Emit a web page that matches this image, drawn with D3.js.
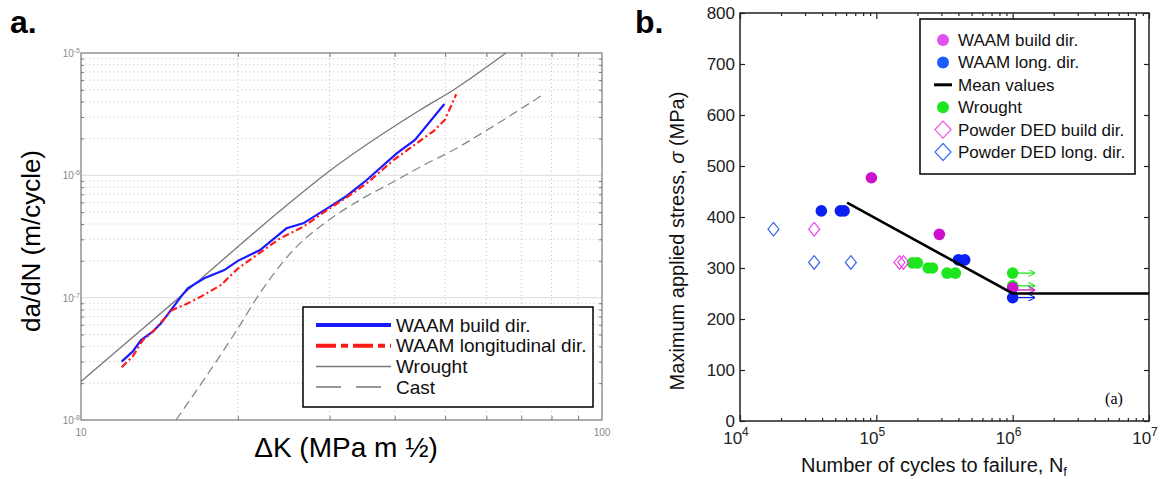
<!DOCTYPE html>
<html>
<head>
<meta charset="utf-8">
<script src="https://cdn.jsdelivr.net/npm/d3@7"></script>
<style>
  body { margin: 0; background: #fff; }
  svg { font-family: "Liberation Sans", Arial, sans-serif; }
</style>
</head>
<body>
<div id="viewer"></div>
<script>
// ---- panel a: crack growth rate data ----
const waamBuildK = [11.97, 12.56, 13.04, 13.73, 14.24, 14.88, 15.56, 16.03, 17.24, 18.84, 20.0, 22.06, 24.8, 26.7, 30.06, 32.36, 35.35, 40.36, 43.75, 49.83];
const waamBuildRate = [3.0e-8, 3.62e-8, 4.5e-8, 5.27e-8, 6.17e-8, 7.9e-8, 1.02e-7, 1.19e-7, 1.44e-7, 1.68e-7, 2.0e-7, 2.45e-7, 3.69e-7, 4.05e-7, 5.55e-7, 6.78e-7, 9.16e-7, 1.51e-6, 1.95e-6, 3.83e-6];
const waamLongK = [11.97, 12.56, 13.14, 13.73, 14.88, 15.22, 15.79, 16.99, 18.57, 20.0, 21.5, 24.1, 26.7, 30.06, 32.36, 35.35, 39.77, 44.1, 47.5, 49.97, 52.5];
const waamLongRate = [2.7e-8, 3.3e-8, 4.5e-8, 5.27e-8, 7.8e-8, 8.2e-8, 8.7e-8, 1.02e-7, 1.27e-7, 1.73e-7, 2.16e-7, 3.05e-7, 3.8e-7, 5.4e-7, 6.6e-7, 8.6e-7, 1.33e-6, 1.83e-6, 2.3e-6, 2.85e-6, 4.6e-6];
const wroughtK = [10, 17, 24.2, 29.6, 44.75, 51.85, 65.4];
const wroughtRate = [2.06e-8, 1.43e-7, 5.2e-7, 1.04e-6, 3.42e-6, 4.99e-6, 1.0e-5];
const castK = [15.22, 20.0, 22.06, 25.56, 29.6, 34.3, 39.8, 46.1, 51.85, 60.1, 76.9];
const castRate = [1.0e-8, 5.6e-8, 1.09e-7, 2.45e-7, 4.18e-7, 6.28e-7, 8.87e-7, 1.25e-6, 1.61e-6, 2.34e-6, 4.54e-6];
const legendA = ["WAAM build dir.", "WAAM longitudinal dir.", "Wrought", "Cast"];

// ---- panel b: S-N data ----
const waamBuildN = [9.2e4, 2.9e5, 1.0e6];
const waamBuildS = [477, 366, 261];
const waamLongN = [3.95e4, 5.45e4, 5.8e4, 4.0e5, 4.45e5, 1.0e6];
const waamLongS = [412, 412, 412, 316, 316, 242];
const wroughtN = [1.84e5, 2.0e5, 2.4e5, 2.58e5, 3.3e5, 3.8e5, 1.0e6, 1.0e6];
const wroughtS = [310, 310, 300, 300, 290, 290, 290, 265];
const powderBuildN = [3.5e4, 1.48e5, 1.58e5];
const powderBuildS = [376, 311, 311];
const powderLongN = [1.76e4, 3.5e4, 6.5e4];
const powderLongS = [376, 311, 311];
const meanN = [6.1e4, 1.0e6, 1.0e7];
const meanS = [428, 250, 250];
const runoutFrom = [1.0e6, 1.0e6, 1.0e6, 1.0e6];
const runoutTo = [1.45e6, 1.45e6, 1.45e6, 1.45e6];
const runoutS = [290, 265, 257, 242];
const runoutSeries = ["wrought", "wrought", "build", "long"];
const legendB = ["WAAM build dir.", "WAAM long. dir.", "Mean values", "Wrought", "Powder DED build dir.", "Powder DED long. dir."];
const yTicksB = [0, 100, 200, 300, 400, 500, 600, 700, 800];
const xTicksB = [1e4, 1e5, 1e6, 1e7];

const width = 1169, height = 479;
const svg = d3.select("#viewer").append("svg")
    .attr("width", width).attr("height", height);

// ================= panel a =================
const xA = d3.scaleLog().domain([10, 100]).range([81, 602]);
const yA = d3.scaleLog().domain([1e-8, 1e-5]).range([420, 53]);
const gA = svg.append("g");

const minorX = d3.range(2, 10).map(m => m * 10);
const minorY = [];
[1e-8, 1e-7, 1e-6].forEach(d => d3.range(2, 10).forEach(m => minorY.push(d * m)));

// grid
gA.selectAll(".hminor").data(minorY).enter().append("line")
    .attr("x1", xA(10)).attr("x2", xA(100))
    .attr("y1", d => yA(d)).attr("y2", d => yA(d))
    .attr("stroke", "#bdbdbd").attr("stroke-width", 0.8).attr("stroke-dasharray", "1.2,2.8");
gA.selectAll(".vminor").data(minorX).enter().append("line")
    .attr("x1", d => xA(d)).attr("x2", d => xA(d))
    .attr("y1", yA(1e-8)).attr("y2", yA(1e-5))
    .attr("stroke", "#bdbdbd").attr("stroke-width", 0.8).attr("stroke-dasharray", "1.2,2.8");
gA.selectAll(".hmajor").data([1e-7, 1e-6]).enter().append("line")
    .attr("x1", xA(10)).attr("x2", xA(100))
    .attr("y1", d => yA(d)).attr("y2", d => yA(d))
    .attr("stroke", "#e2e2e2").attr("stroke-width", 1.2);

// inner ticks
const tickStyle = g => g.call(s => s.select(".domain").remove())
    .selectAll("line").attr("stroke", "#777");
gA.append("g").attr("transform", `translate(0,${yA(1e-8)})`)
    .call(d3.axisBottom(xA).tickValues(minorX).tickSize(-4).tickFormat("")).call(tickStyle);
gA.append("g").attr("transform", `translate(0,${yA(1e-5)})`)
    .call(d3.axisTop(xA).tickValues(minorX).tickSize(-4).tickFormat("")).call(tickStyle);
gA.append("g").attr("transform", `translate(${xA(10)},0)`)
    .call(d3.axisLeft(yA).tickValues(minorY).tickSize(-3).tickFormat("")).call(tickStyle);
gA.append("g").attr("transform", `translate(${xA(100)},0)`)
    .call(d3.axisRight(yA).tickValues(minorY).tickSize(-3).tickFormat("")).call(tickStyle);

// box
gA.append("rect").attr("x", xA(10)).attr("y", yA(1e-5))
    .attr("width", xA(100) - xA(10)).attr("height", yA(1e-8) - yA(1e-5))
    .attr("fill", "none").attr("stroke", "#777").attr("stroke-width", 1.2);

// tick labels
const yLab = gA.selectAll(".ylab").data([1e-8, 1e-7, 1e-6, 1e-5]).enter().append("text")
    .attr("x", xA(10) - 1).attr("y", d => yA(d) + 4)
    .attr("text-anchor", "end").attr("fill", "#888").style("font-size", "10px");
yLab.append("tspan").text("10");
yLab.append("tspan").attr("dy", -4).style("font-size", "7px").text(d => Math.round(Math.log10(d)));
gA.selectAll(".xlab").data([10, 100]).enter().append("text")
    .attr("x", d => xA(d)).attr("y", yA(1e-8) + 16)
    .attr("text-anchor", "middle").attr("fill", "#888").style("font-size", "10px")
    .text(d => d);

// curves
const lineA = d3.line().x(d => xA(d[0])).y(d => yA(d[1]));
const smoothA = d3.line().x(d => xA(d[0])).y(d => yA(d[1])).curve(d3.curveMonotoneX);
gA.append("path").datum(d3.zip(castK, castRate)).attr("d", smoothA)
    .attr("fill", "none").attr("stroke", "#888").attr("stroke-width", 1.3).attr("stroke-dasharray", "9,5");
gA.append("path").datum(d3.zip(wroughtK, wroughtRate)).attr("d", smoothA)
    .attr("fill", "none").attr("stroke", "#777").attr("stroke-width", 1.3);
gA.append("path").datum(d3.zip(waamBuildK, waamBuildRate)).attr("d", lineA)
    .attr("fill", "none").attr("stroke", "#1a1aff").attr("stroke-width", 2.2);
gA.append("path").datum(d3.zip(waamLongK, waamLongRate)).attr("d", lineA)
    .attr("fill", "none").attr("stroke", "#ff1a1a").attr("stroke-width", 2.2)
    .attr("stroke-dasharray", "7,3,2,3");

// legend a
const legA = gA.append("g");
legA.append("rect").attr("x", 303).attr("y", 307).attr("width", 290).attr("height", 100)
    .attr("fill", "#fff").attr("stroke", "#000").attr("stroke-width", 1.5);
const legAStyles = [
    { c: "#1a1aff", w: 4, dash: null },
    { c: "#ff1a1a", w: 4, dash: "20,5,7,5" },
    { c: "#777", w: 1.5, dash: null },
    { c: "#777", w: 1.5, dash: "25,15" }
];
legendA.forEach((t, i) => {
    const y = 325 + i * 20.7;
    legA.append("line").attr("x1", 316).attr("x2", 391).attr("y1", y).attr("y2", y)
        .attr("stroke", legAStyles[i].c).attr("stroke-width", legAStyles[i].w)
        .attr("stroke-dasharray", legAStyles[i].dash);
    legA.append("text").attr("x", 396).attr("y", y + 6.5).style("font-size", "19px")
        .attr("fill", "#111").text(t);
});

// titles a
gA.append("text").attr("x", 10).attr("y", 33).style("font-size", "32px")
    .style("font-weight", "bold").text("a.");
gA.append("text").attr("transform", "translate(40,241) rotate(-90)")
    .attr("text-anchor", "middle").style("font-size", "26px").text("da/dN (m/cycle)");
gA.append("text").attr("x", 346).attr("y", 457).attr("text-anchor", "middle")
    .style("font-size", "28px").text("\u0394K (MPa m \u00BD)");

// ================= panel b =================
const xB = d3.scaleLog().domain([1e4, 1e7]).range([740, 1149]);
const yB = d3.scaleLinear().domain([0, 800]).range([421, 13]);
const gB = svg.append("g");

const colors = {
    build: "#cc11cc", long: "#0a1ff0", wrought: "#1ee61e",
    pBuild: "#ee44ee", pLong: "#3c64ee"
};

const minorXB = [];
[1e4, 1e5, 1e6].forEach(d => d3.range(2, 10).forEach(m => minorXB.push(d * m)));

const tickB = g => g.call(s => s.select(".domain").remove())
    .selectAll("line").attr("stroke", "#222").attr("stroke-width", 1.2);
gB.append("g").attr("transform", `translate(0,${yB(0)})`)
    .call(d3.axisBottom(xB).tickValues(minorXB).tickSize(-3).tickFormat("")).call(tickB);
gB.append("g").attr("transform", `translate(0,${yB(0)})`)
    .call(d3.axisBottom(xB).tickValues(xTicksB).tickSize(-6).tickFormat("")).call(tickB);
gB.append("g").attr("transform", `translate(0,${yB(800)})`)
    .call(d3.axisTop(xB).tickValues(minorXB).tickSize(-3).tickFormat("")).call(tickB);
gB.append("g").attr("transform", `translate(0,${yB(800)})`)
    .call(d3.axisTop(xB).tickValues(xTicksB).tickSize(-6).tickFormat("")).call(tickB);
gB.append("g").attr("transform", `translate(${xB(1e7)},0)`)
    .call(d3.axisRight(yB).tickValues(yTicksB).tickSize(-5).tickFormat("")).call(tickB);
const yAxB = gB.append("g").attr("transform", `translate(${xB(1e4)},0)`)
    .call(d3.axisLeft(yB).tickValues(yTicksB).tickSize(-5).tickPadding(5));
yAxB.select(".domain").remove();
yAxB.selectAll("line").attr("stroke", "#222").attr("stroke-width", 1.2);
yAxB.selectAll("text").style("font-size", "17px").attr("fill", "#222")
    .attr("font-family", "Liberation Sans, Arial, sans-serif");

gB.append("rect").attr("x", xB(1e4)).attr("y", yB(800))
    .attr("width", xB(1e7) - xB(1e4)).attr("height", yB(0) - yB(800))
    .attr("fill", "none").attr("stroke", "#222").attr("stroke-width", 1.5);

const xLabB = gB.selectAll(".xlabb").data(xTicksB).enter().append("text")
    .attr("x", d => xB(d) - 4).attr("y", 444)
    .attr("text-anchor", "middle").attr("fill", "#222").style("font-size", "17px");
xLabB.append("tspan").text("10");
xLabB.append("tspan").attr("dy", -8).style("font-size", "12px").text(d => Math.round(Math.log10(d)));

// markers for runouts
const defs = svg.append("defs");
Object.keys(colors).forEach(k => {
    defs.append("marker").attr("id", "arr-" + k)
        .attr("viewBox", "0 0 10 10").attr("refX", 9).attr("refY", 5)
        .attr("markerWidth", 7).attr("markerHeight", 7).attr("markerUnits", "userSpaceOnUse")
        .attr("orient", "auto")
        .append("path").attr("d", "M0,0 L10,5 L0,10").attr("fill", "none")
        .attr("stroke", colors[k]).attr("stroke-width", 1.5);
});

gB.selectAll(".runout").data(d3.range(runoutS.length)).enter().append("line")
    .attr("x1", i => xB(runoutFrom[i])).attr("x2", i => xB(runoutTo[i]))
    .attr("y1", i => yB(runoutS[i])).attr("y2", i => yB(runoutS[i]))
    .attr("stroke", i => colors[runoutSeries[i]]).attr("stroke-width", 1.3)
    .attr("marker-end", i => `url(#arr-${runoutSeries[i]})`);

// open diamond outline, half width w, half height h
const diamondPath = (w, h) => `M0,${-h}L${w},0L0,${h}L${-w},0Z`;
function circles(ns, ss, c) {
    gB.append("g").selectAll("circle").data(d3.zip(ns, ss)).enter().append("circle")
        .attr("cx", d => xB(d[0])).attr("cy", d => yB(d[1])).attr("r", 5.8)
        .attr("fill", c);
}
function diamonds(ns, ss, c) {
    gB.append("g").selectAll("path").data(d3.zip(ns, ss)).enter().append("path")
        .attr("d", diamondPath(5.5, 6.8))
        .attr("transform", d => `translate(${xB(d[0])},${yB(d[1])})`)
        .attr("fill", "none").attr("stroke", c).attr("stroke-width", 1.2);
}
circles(wroughtN, wroughtS, colors.wrought);
circles(waamBuildN, waamBuildS, colors.build);
circles(waamLongN, waamLongS, colors.long);
diamonds(powderBuildN, powderBuildS, colors.pBuild);
diamonds(powderLongN, powderLongS, colors.pLong);

gB.append("path").datum(d3.zip(meanN, meanS))
    .attr("d", d3.line().x(d => xB(d[0])).y(d => yB(d[1])))
    .attr("fill", "none").attr("stroke", "#000").attr("stroke-width", 2.6);

// legend b
const legB = gB.append("g");
legB.append("rect").attr("x", 920).attr("y", 19).attr("width", 215).attr("height", 155)
    .attr("fill", "#fff").attr("stroke", "#000").attr("stroke-width", 1.5);
const legBMarks = [
    { t: "circle", c: "#e050ee" }, { t: "circle", c: "#1a5cff" }, { t: "line", c: "#000" },
    { t: "circle", c: "#1ee61e" }, { t: "diamond", c: "#ee55ee" }, { t: "diamond", c: "#4477ff" }
];
legendB.forEach((t, i) => {
    const y = 40 + i * 22.4;
    const m = legBMarks[i];
    if (m.t === "circle") {
        legB.append("circle").attr("cx", 943).attr("cy", y).attr("r", 6).attr("fill", m.c);
    } else if (m.t === "line") {
        legB.append("line").attr("x1", 934).attr("x2", 952).attr("y1", y).attr("y2", y)
            .attr("stroke", m.c).attr("stroke-width", 3);
    } else {
        legB.append("path").attr("d", diamondPath(8, 8.5))
            .attr("transform", `translate(943,${y})`)
            .attr("fill", "none").attr("stroke", m.c).attr("stroke-width", 1.3);
    }
    legB.append("text").attr("x", 958).attr("y", y + 6).style("font-size", "17px")
        .attr("fill", "#111").text(t);
});

gB.append("text").attr("x", 1114).attr("y", 404).attr("text-anchor", "middle")
    .style("font-family", "Liberation Serif, Times New Roman, serif").style("font-size", "16px")
    .text("(a)");

// titles b
gB.append("text").attr("x", 635).attr("y", 33).style("font-size", "32px")
    .style("font-weight", "bold").text("b.");
const yt = gB.append("text").attr("transform", "translate(684,241) rotate(-90)")
    .attr("text-anchor", "middle").style("font-size", "20px").attr("fill", "#111");
yt.append("tspan").text("Maximum applied stress, ");
yt.append("tspan").style("font-style", "italic").text("\u03C3");
yt.append("tspan").text(" (MPa)");
const xt = gB.append("text").attr("x", 934).attr("y", 472).attr("text-anchor", "middle")
    .style("font-size", "20px").attr("fill", "#111");
xt.append("tspan").text("Number of cycles to failure, N");
xt.append("tspan").attr("dy", 4).style("font-size", "13px").text("f");
</script>
</body>
</html>
